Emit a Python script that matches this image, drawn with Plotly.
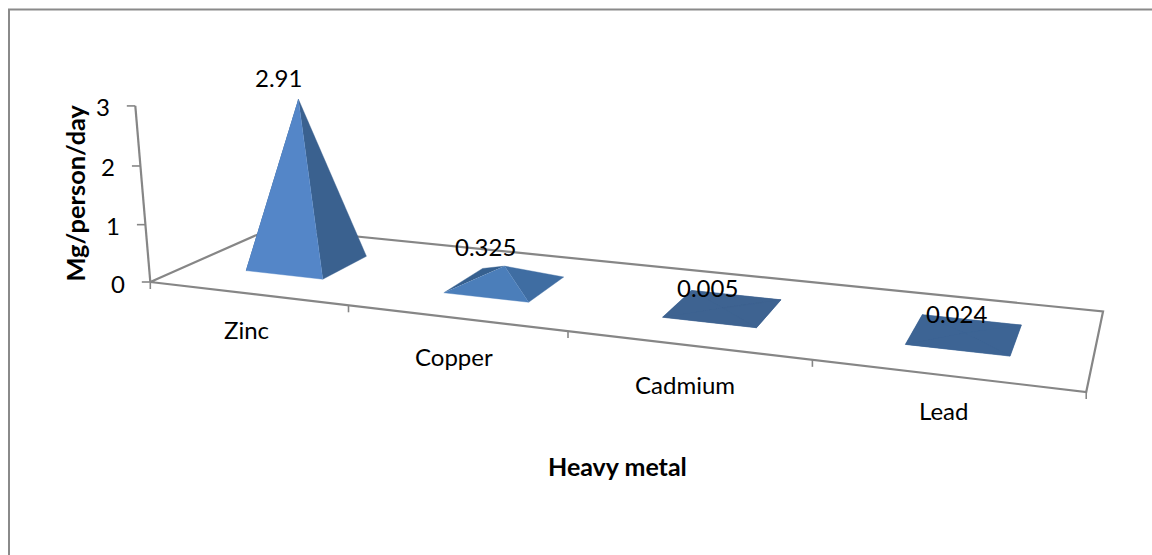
import plotly.graph_objects as go

# Chart content
categories = ["Zinc", "Copper", "Cadmium", "Lead"]
values = [2.91, 0.325, 0.005, 0.024]
value_ticks = [0, 1, 2, 3]
x_title = "Heavy metal"
y_title = "Mg/person/day"

# Face colours per pyramid, painted back to front
left_colors = ["#36608f", "#36608f", "#3e6391", "#3d6494"]
right_colors = ["#3a618f", "#3f6da2", "#3e6391", "#3d6494"]
front_colors = ["#5486c8", "#4b7eba", "#3e6391", "#3d6494"]

LINE = "#868686"
FONT = "Lato, Carlito, sans-serif"
TEXT = "#000000"

# Camera of the 3-D scene: category position, depth (0-1), value -> page pixels
CAMERA = [
    [181.3, 157.5, -6.54, 150.3],
    [8.49, -24.25, -59.9, 282.0],
    [-0.0485, 0.1305, -0.0114, 1.0],
]
HALF_WIDTH = 0.2  # half of a pyramid base, in category units


def project(cat, depth, value):
    v = (cat, depth, value, 1.0)
    sx, sy, w = (sum(a * b for a, b in zip(row, v)) for row in CAMERA)
    return sx / w, sy / w


fig = go.Figure()


def add_line(points, width=2.2, color=LINE):
    fig.add_trace(go.Scatter(
        x=[p[0] for p in points], y=[p[1] for p in points], mode="lines",
        line=dict(color=color, width=width), hoverinfo="skip", showlegend=False,
    ))


def add_face(points, color):
    fig.add_trace(go.Scatter(
        x=[p[0] for p in points], y=[p[1] for p in points], mode="lines",
        fill="toself", fillcolor=color, line=dict(color=color, width=0.4),
        hoverinfo="skip", showlegend=False,
    ))


# Chart-area border (top and left edges fall inside the page)
add_line([(9, 555), (9, 9.5), (1152, 9.5)], width=2.0, color="#8a8a8a")

# Floor outline
n = len(categories)
add_line([project(0, 0, 0), project(0, 1, 0), project(n, 1, 0),
          project(n, 0, 0), project(0, 0, 0)])

# Value axis with ticks
add_line([project(0, 0, value_ticks[0]), project(0, 0, value_ticks[-1])])
for t in value_ticks:
    px, py = project(0, 0, t)
    add_line([(px - 8.5, py), (px, py)], width=1.6)

# Category ticks below the front floor edge
for i in range(n + 1):
    px, py = project(i, 0, 0)
    add_line([(px, py), (px, py + 7)], width=1.6)

# Pyramids
for i, val in enumerate(values):
    c = i + 0.5
    fl = project(c - HALF_WIDTH, 0.5 - HALF_WIDTH, 0)
    fr = project(c + HALF_WIDTH, 0.5 - HALF_WIDTH, 0)
    br = project(c + HALF_WIDTH, 0.5 + HALF_WIDTH, 0)
    bl = project(c - HALF_WIDTH, 0.5 + HALF_WIDTH, 0)
    apex = project(c, 0.5, val)
    if val < 0.1:  # nearly flat pyramids read as one solid footprint
        add_face([fl, fr, br, bl], left_colors[i])
        add_face([bl, br, apex], left_colors[i])
    add_face([fl, bl, apex], left_colors[i])
    add_face([fr, br, apex], right_colors[i])
    add_face([fl, fr, apex], front_colors[i])

annotations = []


def add_text(text, pos, dx=0, dy=0, size=24, bold=False, angle=0):
    annotations.append(dict(
        x=pos[0], y=pos[1], xref="x", yref="y", xshift=dx, yshift=-dy,
        text=f"<b>{text}</b>" if bold else text, showarrow=False,
        textangle=angle, xanchor="center", yanchor="middle",
        font=dict(family=FONT, size=size, color=TEXT),
    ))


# Value-axis labels
for t in value_ticks:
    add_text(str(t), project(0, 0, t), dx=-32, dy=1)

# Category labels
cat_offsets = [(-0.5, 36.5), (-1, 38.5), (-2, 39.5), (-1, 35)]
for i, name in enumerate(categories):
    add_text(name, project(i + 0.5, 0, 0), *cat_offsets[i])

# Data labels above each apex
label_offsets = [(-19.5, -21.5), (-19.5, -20), (-15.5, -20.5), (-8, -20)]
for i, val in enumerate(values):
    add_text(str(val), project(i + 0.5, 0.5, val), *label_offsets[i])

# Axis titles
add_text(x_title, (617, 466), size=25, bold=True)
add_text(y_title, (74, 193.5), size=25.4, bold=True, angle=-90)

fig.update_layout(
    width=1152, height=555, margin=dict(l=0, r=0, t=0, b=0),
    paper_bgcolor="white", plot_bgcolor="white", showlegend=False,
    hovermode=False, annotations=annotations,
    xaxis=dict(range=[0, 1152], visible=False, fixedrange=True),
    yaxis=dict(range=[555, 0], visible=False, fixedrange=True),
)

fig.write_html("out.html")
